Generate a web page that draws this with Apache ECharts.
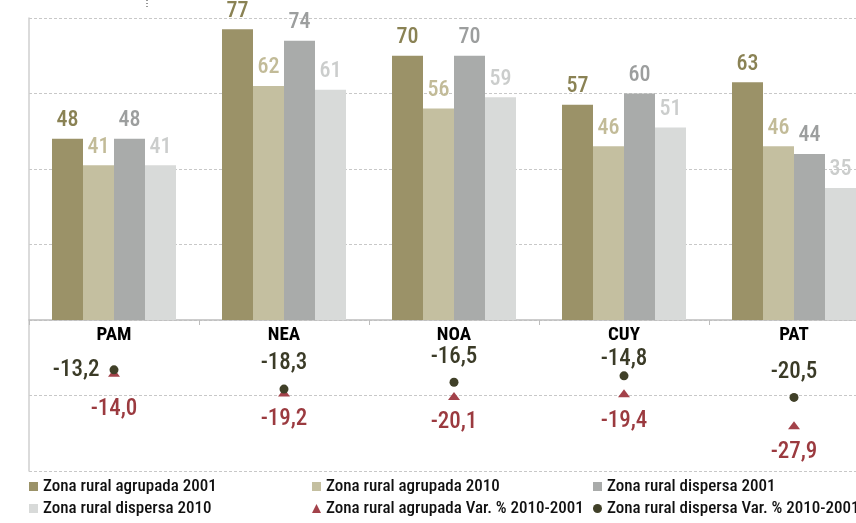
<!DOCTYPE html>
<html>
<head>
<meta charset="utf-8">
<script src="https://cdn.jsdelivr.net/npm/echarts@6/dist/echarts.min.js"></script>
<style>
  html, body { margin: 0; padding: 0; background: #fff; }
  #chart { width: 856px; height: 523px; }
</style>
</head>
<body>
<div id="chart"></div>
<script>
// Regions
const regions = ['PAM', 'NEA', 'NOA', 'CUY', 'PAT'];

// Share of population (%) by rural zone type and census year
const agrupada2001 = [48, 77, 70, 57, 63];
const agrupada2010 = [41, 62, 56, 46, 46];
const dispersa2001 = [48, 74, 70, 60, 44];
const dispersa2010 = [41, 61, 59, 51, 35];

// Percentage change 2010-2001
const agrupadaVar = [-14.0, -19.2, -20.1, -19.4, -27.9];
const dispersaVar = [-13.2, -18.3, -16.5, -14.8, -20.5];

// Series names
const names = {
  ag01: 'Zona rural agrupada 2001',
  ag10: 'Zona rural agrupada 2010',
  di01: 'Zona rural dispersa 2001',
  di10: 'Zona rural dispersa 2010',
  agVar: 'Zona rural agrupada Var. % 2010-2001',
  diVar: 'Zona rural dispersa Var. % 2010-2001'
};

// Label placement for the change markers
const diVarLabelPos = ['left', 'top', 'top', 'top', 'top'];
const diVarLabelDist = [10, 10, 9, 1, 9];
const agVarLabelDist = [21, 11, 11, 13, 11];

// Shared value scale
const Y_MIN = -40, Y_MAX = 80, Y_STEP = 20;
const GRID_TOP = 18, GRID_BOTTOM = 52, CHART_H = 523;
const gridHeight = CHART_H - GRID_TOP - GRID_BOTTOM;
// Lift the category axis from the grid bottom up to the zero line
const zeroOffset = -gridHeight * (0 - Y_MIN) / (Y_MAX - Y_MIN);

const FONT = "'Roboto Condensed', 'Open Sans Condensed', sans-serif";
const fmt = v => v.toFixed(1).replace('.', ',');

function barSeries(name, data, color, labelColor) {
  return {
    name: name,
    type: 'bar',
    data: data,
    barWidth: 31,
    barGap: '0%',
    itemStyle: { color: color },
    label: {
      show: true,
      position: 'top',
      distance: 7,
      color: labelColor,
      fontFamily: FONT,
      fontWeight: 500,
      fontSize: 22
    }
  };
}

const legendText = { color: '#111', fontFamily: FONT, fontWeight: 500, fontSize: 17 };

const chart = echarts.init(document.getElementById('chart'), null, { renderer: 'canvas' });

chart.setOption({
  animation: false,
  backgroundColor: '#ffffff',
  textStyle: { fontFamily: FONT },
  // the last category runs past the right edge of the canvas
  grid: {
    left: 29, width: 850, top: GRID_TOP, bottom: GRID_BOTTOM,
    containLabel: false, outerBoundsMode: 'none'
  },
  xAxis: {
    type: 'category',
    data: regions,
    position: 'bottom',
    offset: zeroOffset,
    axisLine: { onZero: false, lineStyle: { color: '#bdbdbd', width: 1.5 } },
    axisTick: { show: true, length: 5, lineStyle: { color: '#bdbdbd' } },
    axisLabel: { color: '#000', fontFamily: FONT, fontSize: 19, fontWeight: 'bold', margin: 6 },
    splitLine: { show: false }
  },
  yAxis: {
    type: 'value',
    min: Y_MIN,
    max: Y_MAX,
    interval: Y_STEP,
    axisLine: { show: true, lineStyle: { color: '#cfcfcf', width: 1.5 } },
    axisTick: { show: false },
    axisLabel: { show: false },
    splitLine: { show: true, lineStyle: { color: '#c8c8c8', type: [3, 2], width: 1 } }
  },
  legend: [
    {
      left: 29, top: 478, orient: 'vertical', padding: 0, itemGap: 5,
      itemWidth: 9, itemHeight: 9, textStyle: legendText,
      data: [{ name: names.ag01, icon: 'rect' }, { name: names.di10, icon: 'rect' }]
    },
    {
      left: 312, top: 478, orient: 'vertical', padding: 0, itemGap: 5,
      itemWidth: 9, itemHeight: 9, textStyle: legendText,
      data: [{ name: names.ag10, icon: 'rect' }, { name: names.agVar, icon: 'triangle' }]
    },
    {
      left: 593, top: 478, orient: 'vertical', padding: 0, itemGap: 5,
      itemWidth: 9, itemHeight: 9, textStyle: legendText,
      data: [{ name: names.di01, icon: 'rect' }, { name: names.diVar, icon: 'circle' }]
    }
  ],
  graphic: [
    {
      type: 'line',
      shape: { x1: 147, y1: 0, x2: 147, y2: 8 },
      style: { stroke: '#333', lineWidth: 1, lineDash: [1, 2] }
    }
  ],
  series: [
    barSeries(names.ag01, agrupada2001, '#9b9268', '#8a8254'),
    barSeries(names.ag10, agrupada2010, '#c4bfa0', '#c2bb98'),
    barSeries(names.di01, dispersa2001, '#a9abaa', '#9c9e9e'),
    barSeries(names.di10, dispersa2010, '#d8dad9', '#cbcdcc'),
    {
      name: names.agVar,
      type: 'scatter',
      symbol: 'triangle',
      symbolSize: [12, 8],
      itemStyle: { color: '#a3424a', opacity: 1 },
      data: agrupadaVar.map((v, i) => ({
        value: v,
        label: { position: 'bottom', distance: agVarLabelDist[i] }
      })),
      label: {
        show: true,
        color: '#9b3a3f',
        fontFamily: FONT,
        fontWeight: 500,
        fontSize: 23,
        formatter: p => fmt(p.value)
      },
      z: 3
    },
    {
      name: names.diVar,
      type: 'scatter',
      symbol: 'circle',
      symbolSize: 9,
      itemStyle: { color: '#404028', opacity: 1 },
      data: dispersaVar.map((v, i) => ({
        value: v,
        label: { position: diVarLabelPos[i], distance: diVarLabelDist[i] }
      })),
      label: {
        show: true,
        color: '#3b3b27',
        fontFamily: FONT,
        fontWeight: 500,
        fontSize: 23,
        formatter: p => fmt(p.value)
      },
      z: 4
    }
  ]
});
</script>
</body>
</html>
